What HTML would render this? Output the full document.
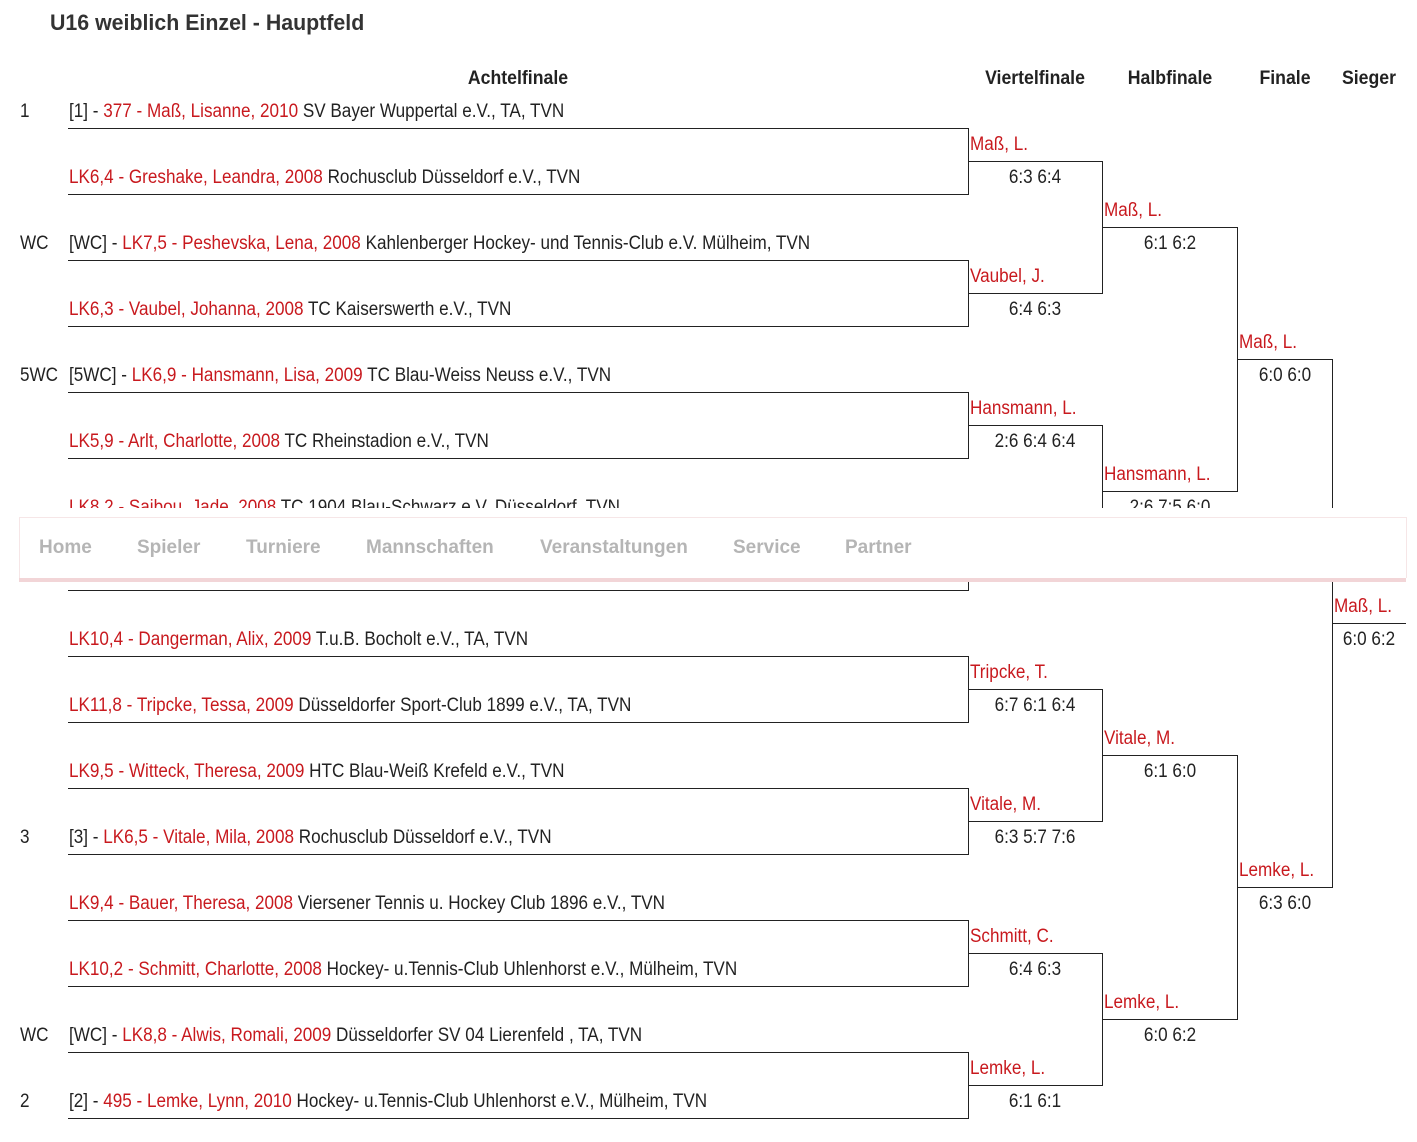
<!DOCTYPE html>
<html><head><meta charset="utf-8"><style>
body{margin:0;width:1417px;height:1142px;background:#fff;position:relative;overflow:hidden;font-family:"Liberation Sans",sans-serif;color:#222;}
.t{position:absolute;font-size:19px;line-height:24px;white-space:nowrap;transform:scaleX(0.9);transform-origin:left center;margin-top:2px;}
.c{position:absolute;font-size:19px;line-height:24px;white-space:nowrap;width:200px;text-align:center;transform:scaleX(0.9);transform-origin:center center;margin-top:2px;}
.c.b{transform:scaleX(0.93);font-weight:bold;}
.r{color:#c8191e;}
.h{position:absolute;height:1px;background:#222;}
.v{position:absolute;width:1px;background:#222;}
.n{position:absolute;top:536px;font-size:19px;line-height:24px;font-weight:bold;color:#b5b5b5;white-space:nowrap;transform:scaleX(1.0);transform-origin:left center;}
</style></head><body>
<div class="t" style="left:50px;top:9px;font-size:22px;font-weight:bold;color:#333;transform:scaleX(0.97)">U16 weiblich Einzel - Hauptfeld</div>
<div class="c b" style="left:418px;top:65px">Achtelfinale</div>
<div class="c b" style="left:935px;top:65px">Viertelfinale</div>
<div class="c b" style="left:1070px;top:65px">Halbfinale</div>
<div class="c b" style="left:1185px;top:65px">Finale</div>
<div class="c b" style="left:1269px;top:65px">Sieger</div>

<div class="t" style="left:20px;top:98px">1</div>
<div class="t" style="left:69px;top:98px">[1] - <span class="r">377 - Maß, Lisanne, 2010</span> SV Bayer Wuppertal e.V., TA, TVN</div>
<div class="t" style="left:69px;top:164px"><span class="r">LK6,4 - Greshake, Leandra, 2008</span> Rochusclub Düsseldorf e.V., TVN</div>
<div class="t" style="left:20px;top:230px">WC</div>
<div class="t" style="left:69px;top:230px">[WC] - <span class="r">LK7,5 - Peshevska, Lena, 2008</span> Kahlenberger Hockey- und Tennis-Club e.V. Mülheim, TVN</div>
<div class="t" style="left:69px;top:296px"><span class="r">LK6,3 - Vaubel, Johanna, 2008</span> TC Kaiserswerth e.V., TVN</div>
<div class="t" style="left:20px;top:362px">5WC</div>
<div class="t" style="left:69px;top:362px">[5WC] - <span class="r">LK6,9 - Hansmann, Lisa, 2009</span> TC Blau-Weiss Neuss e.V., TVN</div>
<div class="t" style="left:69px;top:428px"><span class="r">LK5,9 - Arlt, Charlotte, 2008</span> TC Rheinstadion e.V., TVN</div>
<div class="t" style="left:69px;top:494px"><span class="r">LK8,2 - Saibou, Jade, 2008</span> TC 1904 Blau-Schwarz e.V. Düsseldorf, TVN</div>
<div class="t" style="left:69px;top:626px"><span class="r">LK10,4 - Dangerman, Alix, 2009</span> T.u.B. Bocholt e.V., TA, TVN</div>
<div class="t" style="left:69px;top:692px"><span class="r">LK11,8 - Tripcke, Tessa, 2009</span> Düsseldorfer Sport-Club 1899 e.V., TA, TVN</div>
<div class="t" style="left:69px;top:758px"><span class="r">LK9,5 - Witteck, Theresa, 2009</span> HTC Blau-Weiß Krefeld e.V., TVN</div>
<div class="t" style="left:20px;top:824px">3</div>
<div class="t" style="left:69px;top:824px">[3] - <span class="r">LK6,5 - Vitale, Mila, 2008</span> Rochusclub Düsseldorf e.V., TVN</div>
<div class="t" style="left:69px;top:890px"><span class="r">LK9,4 - Bauer, Theresa, 2008</span> Viersener Tennis u. Hockey Club 1896 e.V., TVN</div>
<div class="t" style="left:69px;top:956px"><span class="r">LK10,2 - Schmitt, Charlotte, 2008</span> Hockey- u.Tennis-Club Uhlenhorst e.V., Mülheim, TVN</div>
<div class="t" style="left:20px;top:1022px">WC</div>
<div class="t" style="left:69px;top:1022px">[WC] - <span class="r">LK8,8 - Alwis, Romali, 2009</span> Düsseldorfer SV 04 Lierenfeld , TA, TVN</div>
<div class="t" style="left:20px;top:1088px">2</div>
<div class="t" style="left:69px;top:1088px">[2] - <span class="r">495 - Lemke, Lynn, 2010</span> Hockey- u.Tennis-Club Uhlenhorst e.V., Mülheim, TVN</div>

<div class="h" style="left:68px;width:901px;top:128px"></div><div class="h" style="left:68px;width:901px;top:194px"></div>
<div class="h" style="left:68px;width:901px;top:260px"></div><div class="h" style="left:68px;width:901px;top:326px"></div>
<div class="h" style="left:68px;width:901px;top:392px"></div><div class="h" style="left:68px;width:901px;top:458px"></div>
<div class="h" style="left:68px;width:901px;top:524px"></div><div class="h" style="left:68px;width:901px;top:590px"></div>
<div class="h" style="left:68px;width:901px;top:656px"></div><div class="h" style="left:68px;width:901px;top:722px"></div>
<div class="h" style="left:68px;width:901px;top:788px"></div><div class="h" style="left:68px;width:901px;top:854px"></div>
<div class="h" style="left:68px;width:901px;top:920px"></div><div class="h" style="left:68px;width:901px;top:986px"></div>
<div class="h" style="left:68px;width:901px;top:1052px"></div><div class="h" style="left:68px;width:901px;top:1118px"></div>
<div class="v" style="left:968px;top:128px;height:67px"></div><div class="v" style="left:968px;top:260px;height:67px"></div>
<div class="v" style="left:968px;top:392px;height:67px"></div><div class="v" style="left:968px;top:524px;height:67px"></div>
<div class="v" style="left:968px;top:656px;height:67px"></div><div class="v" style="left:968px;top:788px;height:67px"></div>
<div class="v" style="left:968px;top:920px;height:67px"></div><div class="v" style="left:968px;top:1052px;height:67px"></div>

<div class="h" style="left:968px;width:135px;top:161px"></div><div class="h" style="left:968px;width:135px;top:293px"></div>
<div class="h" style="left:968px;width:135px;top:425px"></div><div class="h" style="left:968px;width:135px;top:557px"></div>
<div class="h" style="left:968px;width:135px;top:689px"></div><div class="h" style="left:968px;width:135px;top:821px"></div>
<div class="h" style="left:968px;width:135px;top:953px"></div><div class="h" style="left:968px;width:135px;top:1085px"></div>
<div class="v" style="left:1102px;top:161px;height:133px"></div><div class="v" style="left:1102px;top:425px;height:133px"></div>
<div class="v" style="left:1102px;top:689px;height:133px"></div><div class="v" style="left:1102px;top:953px;height:133px"></div>
<div class="t r" style="left:970px;top:131px">Maß, L.</div><div class="c" style="left:935px;top:164px">6:3 6:4</div>
<div class="t r" style="left:970px;top:263px">Vaubel, J.</div><div class="c" style="left:935px;top:296px">6:4 6:3</div>
<div class="t r" style="left:970px;top:395px">Hansmann, L.</div><div class="c" style="left:935px;top:428px">2:6 6:4 6:4</div>
<div class="t r" style="left:970px;top:659px">Tripcke, T.</div><div class="c" style="left:935px;top:692px">6:7 6:1 6:4</div>
<div class="t r" style="left:970px;top:791px">Vitale, M.</div><div class="c" style="left:935px;top:824px">6:3 5:7 7:6</div>
<div class="t r" style="left:970px;top:923px">Schmitt, C.</div><div class="c" style="left:935px;top:956px">6:4 6:3</div>
<div class="t r" style="left:970px;top:1055px">Lemke, L.</div><div class="c" style="left:935px;top:1088px">6:1 6:1</div>

<div class="h" style="left:1102px;width:136px;top:227px"></div><div class="h" style="left:1102px;width:136px;top:491px"></div>
<div class="h" style="left:1102px;width:136px;top:755px"></div><div class="h" style="left:1102px;width:136px;top:1019px"></div>
<div class="v" style="left:1237px;top:227px;height:265px"></div><div class="v" style="left:1237px;top:755px;height:265px"></div>
<div class="t r" style="left:1104px;top:197px">Maß, L.</div><div class="c" style="left:1070px;top:230px">6:1 6:2</div>
<div class="t r" style="left:1104px;top:461px">Hansmann, L.</div><div class="c" style="left:1070px;top:494px">2:6 7:5 6:0</div>
<div class="t r" style="left:1104px;top:725px">Vitale, M.</div><div class="c" style="left:1070px;top:758px">6:1 6:0</div>
<div class="t r" style="left:1104px;top:989px">Lemke, L.</div><div class="c" style="left:1070px;top:1022px">6:0 6:2</div>

<div class="h" style="left:1237px;width:96px;top:359px"></div><div class="h" style="left:1237px;width:96px;top:887px"></div>
<div class="v" style="left:1332px;top:359px;height:529px"></div>
<div class="t r" style="left:1239px;top:329px">Maß, L.</div><div class="c" style="left:1185px;top:362px">6:0 6:0</div>
<div class="t r" style="left:1239px;top:857px">Lemke, L.</div><div class="c" style="left:1185px;top:890px">6:3 6:0</div>
<div class="h" style="left:1332px;width:74px;top:623px"></div>
<div class="t r" style="left:1334px;top:593px">Maß, L.</div><div class="c" style="left:1269px;top:626px">6:0 6:2</div>

<div style="position:absolute;left:0;top:508px;width:1417px;height:70px;background:#fff"></div>
<div style="position:absolute;left:19px;top:517px;width:1386px;height:60px;background:#fff;border:1px solid #f6e6e7;border-bottom:none"></div>
<div style="position:absolute;left:19px;top:578px;width:1387px;height:4px;background:#f2d5d7"></div>
<div class="n" style="left:39px">Home</div>
<div class="n" style="left:137px">Spieler</div>
<div class="n" style="left:246px">Turniere</div>
<div class="n" style="left:366px">Mannschaften</div>
<div class="n" style="left:540px">Veranstaltungen</div>
<div class="n" style="left:733px">Service</div>
<div class="n" style="left:845px">Partner</div>
</body></html>
